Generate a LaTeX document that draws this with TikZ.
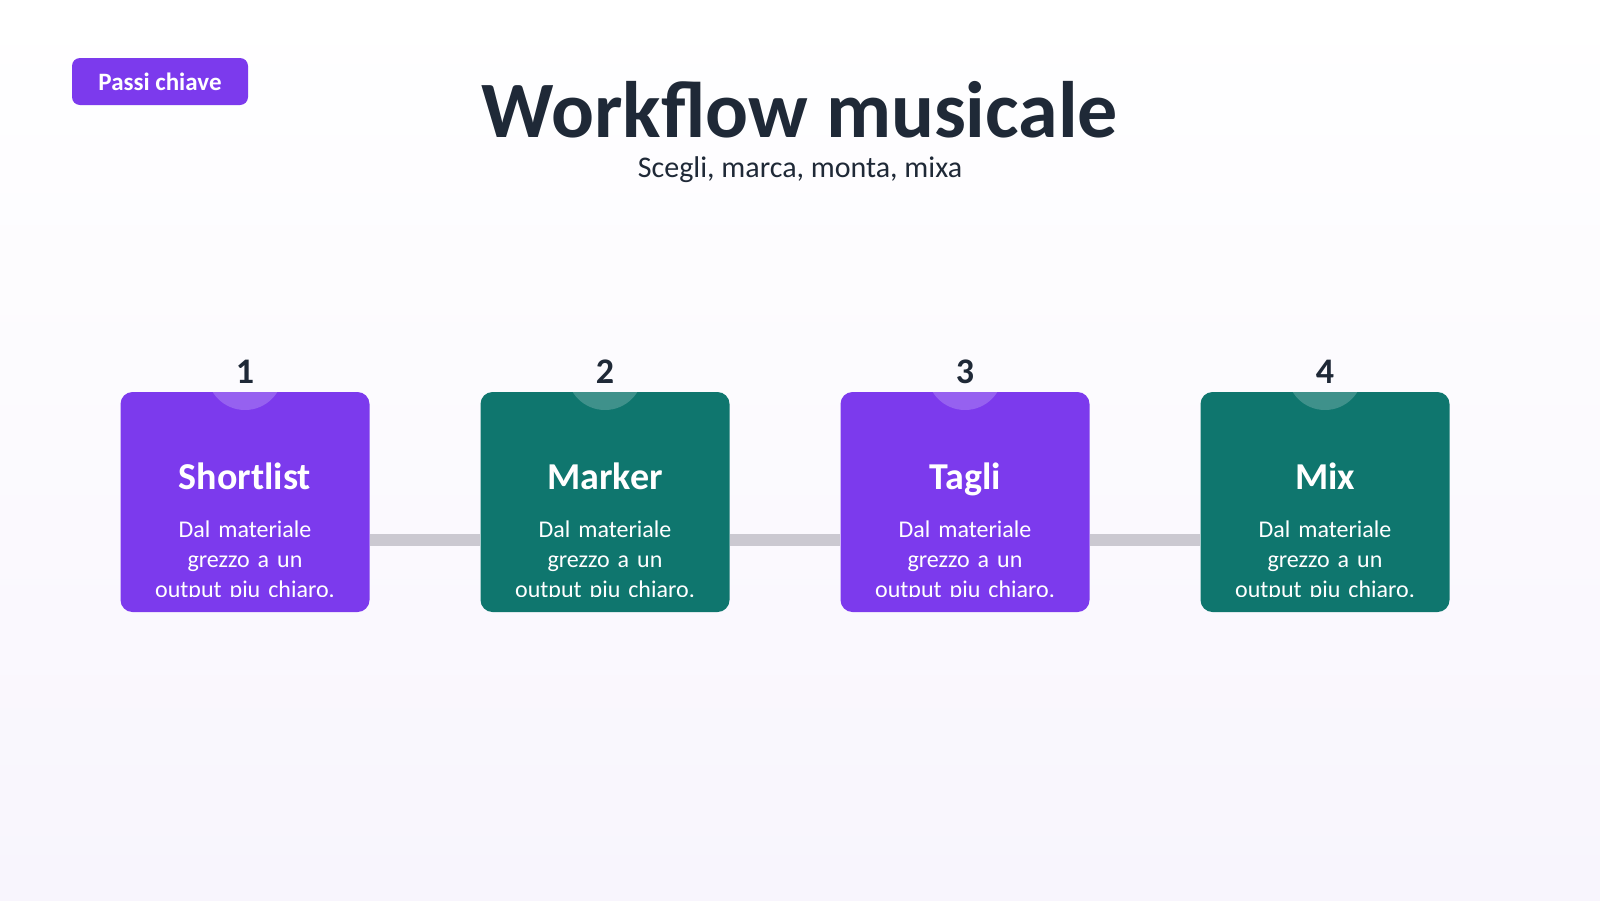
\documentclass[tikz,border=0pt]{standalone}
\usepackage{fontspec}
\setmainfont{Carlito}
\usetikzlibrary{positioning}
\definecolor{violet}{HTML}{7C3AED}
\definecolor{teal}{HTML}{0F766E}
\definecolor{ink}{HTML}{1F2937}
\definecolor{rail}{HTML}{CBC9D1}
\definecolor{bgbot}{HTML}{F8F5FD}
\begin{document}
\begin{tikzpicture}[x=0.5pt,y=-0.5pt,
  card/.style={draw=none, rounded corners=6pt, minimum width=124.5pt, minimum height=110pt, inner sep=0pt},
  halo/.style={circle, fill=white, fill opacity=0.2, minimum size=38pt, inner sep=0pt},
  num/.style={font=\fontsize{18}{20}\selectfont\bfseries, text=ink},
  head/.style={font=\fontsize{19}{22}\selectfont\bfseries, text=white, anchor=base},
  body/.style={font=\fontsize{12}{15}\selectfont, text=white, align=center, text width=100pt}]

  \shade[top color=white, bottom color=bgbot] (0,0) rectangle (1600,900);
  \useasboundingbox (0,0) rectangle (1600,900);

  \node[fill=violet, rounded corners=4pt, minimum width=88pt, minimum height=23.5pt, text=white,
        font=\fontsize{12.5}{14}\selectfont\bfseries] (badge) at (160,81.5) {Passi chiave};
  \node[font=\fontsize{40}{44}\selectfont\bfseries, text=ink] (title) at (800,110) {Workflow musicale};
  \node[font=\fontsize{15}{18}\selectfont, text=ink] (sub) at (800,170) {Scegli, marca, monta, mixa};

  % steps
  \foreach \i/\cx/\col/\name in {1/245/violet/Shortlist, 2/605/teal/Marker, 3/965/violet/Tagli, 4/1325/teal/Mix} {
    \node[card, fill=\col] (c\i) at (\cx,502) {};
  }
  \draw[rail, line width=6pt] ([yshift=-19pt]c1.east) -- ([yshift=-19pt]c2.west);
  \draw[rail, line width=6pt] ([yshift=-19pt]c2.east) -- ([yshift=-19pt]c3.west);
  \draw[rail, line width=6pt] ([yshift=-19pt]c3.east) -- ([yshift=-19pt]c4.west);
  \foreach \i/\cx/\col/\name in {1/245/violet/Shortlist, 2/605/teal/Marker, 3/965/violet/Tagli, 4/1325/teal/Mix} {
    \node[halo] (h\i) at (\cx,372) {};
    \node[num] (n\i) at (\cx,372) {\i};
    \node[head] (t\i) at (\cx,489) {\name};
    \begin{scope}
      \clip (\cx-120,505) rectangle (\cx+120,596);
      \node[body, anchor=north] (b\i) at (\cx,514) {Dal materiale grezzo a un output piu chiaro.};
    \end{scope}
  }
\end{tikzpicture}
\end{document}
